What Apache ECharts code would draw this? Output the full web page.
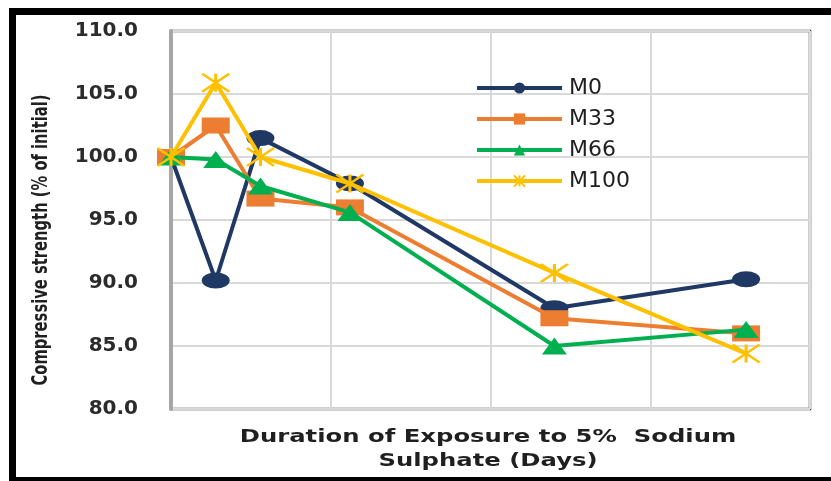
<!DOCTYPE html>
<html>
<head>
<meta charset="utf-8">
<script src="https://cdn.jsdelivr.net/npm/echarts@6/dist/echarts.min.js"></script>
<style>
  html, body { margin: 0; padding: 0; background: #fff; overflow: hidden; }
  #chart { width: 831px; height: 481px; }
</style>
</head>
<body>
<div id="chart"></div>
<script>
// Exposure durations (days) and relative compressive strength per mix
const days = [0, 14, 28, 56, 120, 180];
const seriesNames = ['M0', 'M33', 'M66', 'M100'];
const m0 = [100.0, 90.2, 101.5, 97.9, 88.0, 90.3];
const m33 = [100.0, 102.5, 96.7, 96.0, 87.2, 86.0];
const m66 = [100.0, 99.8, 97.7, 95.6, 85.0, 86.3];
const m100 = [100.0, 105.9, 100.0, 97.9, 90.8, 84.4];
const yTicks = [80, 85, 90, 95, 100, 105, 110];

const values = [m0, m33, m66, m100];
const colors = ['#203864', '#ED7D31', '#00B050', '#FFC000'];
const symbols = [
  'circle',
  'rect',
  'triangle',
  'path://M0,0L24,16M24,0L0,16M12,0L12,16'
];
const symbolSizes = [[28, 16], [28, 16], [25, 17], [27, 18]];

const textColor = '#1f1f1f';

const chart = echarts.init(document.getElementById('chart'), null, { renderer: 'canvas' });

const series = seriesNames.map((name, i) => {
  const isStar = i === 3;
  return {
    name: name,
    type: 'line',
    data: days.map((d, k) => [d, values[i][k]]),
    symbol: symbols[i],
    symbolSize: symbolSizes[i],
    clip: false,
    z: 2 + i,
    lineStyle: { color: colors[i], width: 4 },
    itemStyle: isStar
      ? { color: colors[i], borderColor: colors[i], borderWidth: 2.5 }
      : { color: colors[i], borderWidth: 0 },
    emphasis: { disabled: true }
  };
});

chart.setOption({
  animation: false,
  backgroundColor: '#ffffff',
  grid: {
    left: 171, top: 31, right: 21, bottom: 72,
    outerBoundsMode: 'none',
    containLabel: false,
    show: true,
    borderColor: '#3b4252',
    borderWidth: 2.5,
    backgroundColor: 'transparent'
  },
  legend: {
    orient: 'vertical',
    left: 475,
    top: 77,
    padding: 0,
    itemWidth: 85,
    itemHeight: 14,
    itemGap: 9,
    data: seriesNames,
    lineStyle: { width: 4 },
    textStyle: {
      fontFamily: "'DejaVu Sans', sans-serif",
      fontSize: 22,
      color: textColor,
      padding: [0, 0, 0, 2]
    }
  },
  xAxis: {
    type: 'value',
    min: 0,
    max: 200,
    interval: 50,
    axisLine: { show: false },
    axisTick: { show: false },
    axisLabel: { show: false },
    splitLine: { show: true, lineStyle: { color: '#d9d9d9', width: 2 } }
  },
  yAxis: {
    type: 'value',
    min: yTicks[0],
    max: yTicks[yTicks.length - 1],
    interval: 5,
    axisLine: { show: true, lineStyle: { color: '#a6a6a6', width: 4 } },
    axisTick: { show: false },
    splitLine: { show: true, lineStyle: { color: '#d9d9d9', width: 2 } },
    axisLabel: {
      margin: 33,
      formatter: v => v.toFixed(1),
      fontFamily: "'DejaVu Sans', sans-serif",
      fontWeight: 'bold',
      fontSize: 20,
      color: '#2b2b2b'
    }
  },
  graphic: [
    {
      type: 'text',
      x: 41,
      y: 240,
      rotation: Math.PI / 2,
      scaleX: 0.67,
      style: {
        text: 'Compressive strength (% of initial)',
        fontFamily: "'DejaVu Sans', sans-serif",
        fontWeight: 'bold',
        fontSize: 22,
        fill: textColor,
        align: 'center',
        verticalAlign: 'middle'
      }
    },
    {
      type: 'text',
      x: 488,
      y: 449,
      scaleX: 1.35,
      style: {
        text: 'Duration of Exposure to 5%  Sodium\nSulphate (Days)',
        fontFamily: "'DejaVu Sans', sans-serif",
        fontWeight: 'bold',
        fontSize: 18,
        lineHeight: 24,
        fill: textColor,
        align: 'center',
        verticalAlign: 'middle'
      }
    },
    { type: 'rect', shape: { x: 9, y: 8, width: 822, height: 7 }, style: { fill: '#000' }, z: 100 },
    { type: 'rect', shape: { x: 9, y: 8, width: 7, height: 473 }, style: { fill: '#000' }, z: 100 },
    { type: 'rect', shape: { x: 9, y: 477, width: 822, height: 4 }, style: { fill: '#000' }, z: 100 }
  ],
  series: series
});
</script>
</body>
</html>
